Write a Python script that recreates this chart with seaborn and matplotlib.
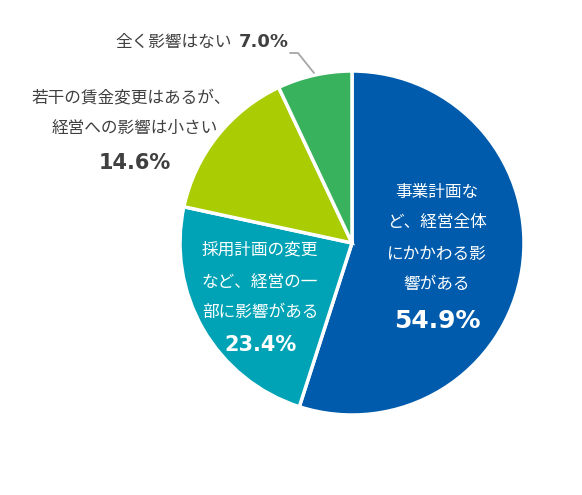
import matplotlib
matplotlib.use("Agg")
import matplotlib.pyplot as plt
import seaborn as sns

sns.set_theme(style="white")
plt.rcParams['font.family'] = ['Noto Sans CJK JP', 'DejaVu Sans']

# data (clockwise from top)
labels = ["事業計画など、経営全体にかかわる影響がある",
          "採用計画の変更など、経営の一部に影響がある",
          "若干の賃金変更はあるが、経営への影響は小さい",
          "全く影響はない"]
values = [54.9, 23.4, 14.6, 7.0]
colors = ["#005BAC", "#00A3B5", "#AACC03", "#38B25C"]

W, H = 582, 495
fig = plt.figure(figsize=(W / 100, H / 100), dpi=100)
ax = fig.add_axes([0, 0, 1, 1])

cx, cy, r = 352, H - 243, 172
ax.pie(values, colors=colors, startangle=90, counterclock=False,
       center=(cx, cy), radius=r, frame=True,
       wedgeprops=dict(edgecolor="white", linewidth=2.5))
ax.set_xlim(0, W)
ax.set_ylim(0, H)
ax.set_aspect("equal")
ax.axis("off")

dark = "#404040"
jp = 12
# blue
for txt, y in zip(["事業計画な", "ど、経営全体", "にかかわる影", "響がある"],
                  [192, 222, 254, 285]):
    ax.text(437, H - y, txt, color="white", fontsize=jp, ha="center", va="center")
ax.text(437, H - 321, f"{values[0]}%", color="white", fontsize=18,
        fontweight="bold", family="DejaVu Sans", ha="center", va="center")
# teal
for txt, y in zip(["採用計画の変更", "など、経営の一", "部に影響がある"],
                  [250, 282, 312]):
    ax.text(260, H - y, txt, color="white", fontsize=jp, ha="center", va="center")
ax.text(261, H - 345, f"{values[1]}%", color="white", fontsize=15,
        fontweight="bold", family="DejaVu Sans", ha="center", va="center")
# yellow-green (outside)
ax.text(131, H - 98, "若干の賃金変更はあるが、", color=dark, fontsize=jp,
        ha="center", va="center")
ax.text(135, H - 128, "経営への影響は小さい", color=dark, fontsize=jp,
        ha="center", va="center")
ax.text(135, H - 163, f"{values[2]}%", color=dark, fontsize=15,
        fontweight="bold", family="DejaVu Sans", ha="center", va="center")
# green (outside)
ax.text(232, H - 42, "全く影響はない", color=dark, fontsize=jp,
        ha="right", va="center")
ax.text(239, H - 42, f"{values[3]}%", color=dark, fontsize=13,
        fontweight="bold", family="DejaVu Sans", ha="left", va="center")
ax.plot([290, 298, 314], [H - 53, H - 53, H - 73], color="#A6A6A6", lw=1.3)

fig.savefig("out.png", dpi=100, facecolor="white")
